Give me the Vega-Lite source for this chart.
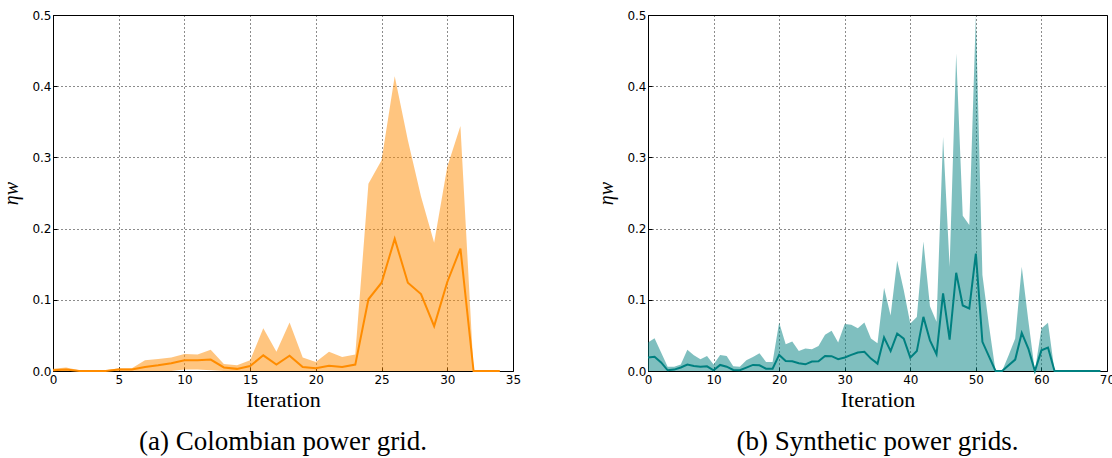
{
  "$schema": "https://vega.github.io/schema/vega-lite/v6.json",
  "background": "white",
  "padding": {"left": 1, "top": 8, "right": 5, "bottom": 0},
  "spacing": 74,
  "config": {
    "view": {"stroke": "black", "strokeWidth": 1},
    "axis": {
      "grid": true, "gridColor": "black", "gridDash": [1, 3], "gridOpacity": 0.9, "gridWidth": 1,
      "domain": false, "tickColor": "black", "tickSize": -4, "tickWidth": 1,
      "labelFont": "DejaVu Sans", "labelFontSize": 12, "labelColor": "black",
      "titleFont": "Liberation Serif", "titleFontSize": 22, "titleFontWeight": "normal", "titleColor": "black"
    },
    "title": {"font": "Liberation Serif", "fontSize": 27, "fontWeight": "normal", "color": "black", "orient": "bottom", "offset": 19}
  },
  "datasets": {
    "a": [
      {"iter": 0, "lower": 0, "upper": 0.003, "mean": 0.001},
      {"iter": 1, "lower": 0, "upper": 0.005, "mean": 0.002},
      {"iter": 2, "lower": 0, "upper": 0.001, "mean": 0.0},
      {"iter": 3, "lower": 0, "upper": 0.001, "mean": 0.0},
      {"iter": 4, "lower": 0, "upper": 0.001, "mean": 0.0},
      {"iter": 5, "lower": 0, "upper": 0.004, "mean": 0.002},
      {"iter": 6, "lower": 0, "upper": 0.004, "mean": 0.002},
      {"iter": 7, "lower": 0, "upper": 0.015, "mean": 0.0056},
      {"iter": 8, "lower": 0, "upper": 0.017, "mean": 0.008},
      {"iter": 9, "lower": 0, "upper": 0.019, "mean": 0.011},
      {"iter": 10, "lower": 0.002, "upper": 0.024, "mean": 0.015},
      {"iter": 11, "lower": 0.002, "upper": 0.023, "mean": 0.015},
      {"iter": 12, "lower": 0.001, "upper": 0.030, "mean": 0.016},
      {"iter": 13, "lower": 0, "upper": 0.010, "mean": 0.005},
      {"iter": 14, "lower": 0, "upper": 0.008, "mean": 0.003},
      {"iter": 15, "lower": 0, "upper": 0.015, "mean": 0.007},
      {"iter": 16, "lower": 0, "upper": 0.060, "mean": 0.022},
      {"iter": 17, "lower": 0, "upper": 0.027, "mean": 0.009},
      {"iter": 18, "lower": 0, "upper": 0.068, "mean": 0.0215},
      {"iter": 19, "lower": 0, "upper": 0.019, "mean": 0.0056},
      {"iter": 20, "lower": 0, "upper": 0.0127, "mean": 0.004},
      {"iter": 21, "lower": 0, "upper": 0.027, "mean": 0.0075},
      {"iter": 22, "lower": 0, "upper": 0.0197, "mean": 0.0056},
      {"iter": 23, "lower": 0, "upper": 0.023, "mean": 0.009},
      {"iter": 24, "lower": 0, "upper": 0.263, "mean": 0.1007},
      {"iter": 25, "lower": 0, "upper": 0.296, "mean": 0.124},
      {"iter": 26, "lower": 0, "upper": 0.414, "mean": 0.1856},
      {"iter": 27, "lower": 0, "upper": 0.324, "mean": 0.124},
      {"iter": 28, "lower": 0, "upper": 0.245, "mean": 0.108},
      {"iter": 29, "lower": 0, "upper": 0.180, "mean": 0.063},
      {"iter": 30, "lower": 0, "upper": 0.287, "mean": 0.125},
      {"iter": 31, "lower": 0, "upper": 0.344, "mean": 0.172},
      {"iter": 32, "lower": 0, "upper": 0.0, "mean": 0.0},
      {"iter": 33, "lower": 0, "upper": 0.0, "mean": 0.0},
      {"iter": 34, "lower": 0, "upper": 0.0, "mean": 0.0}
    ],
    "b": [
      {"iter": 0, "lower": 0, "upper": 0.040, "mean": 0.019},
      {"iter": 1, "lower": 0, "upper": 0.046, "mean": 0.020},
      {"iter": 2, "lower": 0, "upper": 0.026, "mean": 0.012},
      {"iter": 3, "lower": 0, "upper": 0.006, "mean": 0.001},
      {"iter": 4, "lower": 0, "upper": 0.006, "mean": 0.002},
      {"iter": 5, "lower": 0, "upper": 0.009, "mean": 0.005},
      {"iter": 6, "lower": 0, "upper": 0.030, "mean": 0.009},
      {"iter": 7, "lower": 0, "upper": 0.022, "mean": 0.007},
      {"iter": 8, "lower": 0, "upper": 0.0165, "mean": 0.006},
      {"iter": 9, "lower": 0, "upper": 0.021, "mean": 0.0066},
      {"iter": 10, "lower": 0, "upper": 0.009, "mean": 0.001},
      {"iter": 11, "lower": 0, "upper": 0.0226, "mean": 0.0085},
      {"iter": 12, "lower": 0, "upper": 0.021, "mean": 0.006},
      {"iter": 13, "lower": 0, "upper": 0.0066, "mean": 0.0014},
      {"iter": 14, "lower": 0, "upper": 0.006, "mean": 0.001},
      {"iter": 15, "lower": 0, "upper": 0.015, "mean": 0.0047},
      {"iter": 16, "lower": 0, "upper": 0.0198, "mean": 0.0085},
      {"iter": 17, "lower": 0, "upper": 0.025, "mean": 0.008},
      {"iter": 18, "lower": 0, "upper": 0.0127, "mean": 0.0033},
      {"iter": 19, "lower": 0, "upper": 0.0127, "mean": 0.0033},
      {"iter": 20, "lower": 0, "upper": 0.068, "mean": 0.0226},
      {"iter": 21, "lower": 0, "upper": 0.0377, "mean": 0.014},
      {"iter": 22, "lower": 0, "upper": 0.0415, "mean": 0.0137},
      {"iter": 23, "lower": 0, "upper": 0.028, "mean": 0.011},
      {"iter": 24, "lower": 0, "upper": 0.0316, "mean": 0.0094},
      {"iter": 25, "lower": 0, "upper": 0.0307, "mean": 0.0132},
      {"iter": 26, "lower": 0, "upper": 0.035, "mean": 0.0137},
      {"iter": 27, "lower": 0, "upper": 0.051, "mean": 0.021},
      {"iter": 28, "lower": 0, "upper": 0.0566, "mean": 0.0208},
      {"iter": 29, "lower": 0, "upper": 0.040, "mean": 0.0165},
      {"iter": 30, "lower": 0, "upper": 0.066, "mean": 0.019},
      {"iter": 31, "lower": 0, "upper": 0.065, "mean": 0.0226},
      {"iter": 32, "lower": 0, "upper": 0.060, "mean": 0.026},
      {"iter": 33, "lower": 0, "upper": 0.068, "mean": 0.027},
      {"iter": 34, "lower": 0, "upper": 0.0455, "mean": 0.0174},
      {"iter": 35, "lower": 0, "upper": 0.039, "mean": 0.0103},
      {"iter": 36, "lower": 0, "upper": 0.117, "mean": 0.047},
      {"iter": 37, "lower": 0, "upper": 0.078, "mean": 0.028},
      {"iter": 38, "lower": 0, "upper": 0.155, "mean": 0.0526},
      {"iter": 39, "lower": 0, "upper": 0.1136, "mean": 0.0455},
      {"iter": 40, "lower": 0, "upper": 0.0667, "mean": 0.0188},
      {"iter": 41, "lower": 0, "upper": 0.076, "mean": 0.028},
      {"iter": 42, "lower": 0, "upper": 0.182, "mean": 0.076},
      {"iter": 43, "lower": 0, "upper": 0.091, "mean": 0.043},
      {"iter": 44, "lower": 0, "upper": 0.069, "mean": 0.0235},
      {"iter": 45, "lower": 0, "upper": 0.3286, "mean": 0.109},
      {"iter": 46, "lower": 0, "upper": 0.1465, "mean": 0.044},
      {"iter": 47, "lower": 0, "upper": 0.446, "mean": 0.138},
      {"iter": 48, "lower": 0, "upper": 0.218, "mean": 0.092},
      {"iter": 49, "lower": 0, "upper": 0.205, "mean": 0.0878},
      {"iter": 50, "lower": 0, "upper": 0.5, "mean": 0.165},
      {"iter": 51, "lower": 0, "upper": 0.135, "mean": 0.041},
      {"iter": 52, "lower": 0, "upper": 0.064, "mean": 0.0206},
      {"iter": 53, "lower": 0, "upper": 0.0, "mean": 0.0},
      {"iter": 54, "lower": 0, "upper": 0.0, "mean": 0.0},
      {"iter": 55, "lower": 0, "upper": 0.022, "mean": 0.008},
      {"iter": 56, "lower": 0, "upper": 0.0455, "mean": 0.016},
      {"iter": 57, "lower": 0, "upper": 0.1465, "mean": 0.0535},
      {"iter": 58, "lower": 0, "upper": 0.071, "mean": 0.0315},
      {"iter": 59, "lower": 0, "upper": 0.0, "mean": 0.0},
      {"iter": 60, "lower": 0, "upper": 0.0596, "mean": 0.029},
      {"iter": 61, "lower": 0, "upper": 0.0676, "mean": 0.033},
      {"iter": 62, "lower": 0, "upper": 0.0, "mean": 0.0},
      {"iter": 63, "lower": 0, "upper": 0.0, "mean": 0.0},
      {"iter": 64, "lower": 0, "upper": 0.0, "mean": 0.0},
      {"iter": 65, "lower": 0, "upper": 0.0, "mean": 0.0},
      {"iter": 66, "lower": 0, "upper": 0.0, "mean": 0.0},
      {"iter": 67, "lower": 0, "upper": 0.0, "mean": 0.0},
      {"iter": 68, "lower": 0, "upper": 0.0, "mean": 0.0},
      {"iter": 69, "lower": 0, "upper": 0.0, "mean": 0.0}
    ]
  },
  "hconcat": [
    {
      "width": 460, "height": 356,
      "title": {"text": "(a) Colombian power grid."},
      "data": {"name": "a"},
      "encoding": {
        "x": {"field": "iter", "type": "quantitative", "title": "Iteration",
              "scale": {"domain": [0, 35], "nice": false, "zero": false},
              "axis": {"values": [0, 5, 10, 15, 20, 25, 30, 35], "labelPadding": 7, "titlePadding": 4, "labelFlush": false}}
      },
      "layer": [
        {"mark": {"type": "area", "color": "#FF8C00", "opacity": 0.5},
         "encoding": {
           "y": {"field": "upper", "type": "quantitative", "title": "ηw",
                 "scale": {"domain": [0, 0.5], "nice": false},
                 "axis": {"values": [0, 0.1, 0.2, 0.3, 0.4, 0.5], "format": ".1f", "labelPadding": 6, "titlePadding": 10, "titleFontSize": 20, "titleFontStyle": "italic", "labelFlush": false}},
           "y2": {"field": "lower"}
         }},
        {"mark": {"type": "line", "color": "#FF8C00", "strokeWidth": 2},
         "encoding": {"y": {"field": "mean", "type": "quantitative"}}}
      ]
    },
    {
      "width": 459, "height": 356,
      "title": {"text": "(b) Synthetic power grids."},
      "data": {"name": "b"},
      "encoding": {
        "x": {"field": "iter", "type": "quantitative", "title": "Iteration",
              "scale": {"domain": [0, 70], "nice": false, "zero": false},
              "axis": {"values": [0, 10, 20, 30, 40, 50, 60, 70], "labelPadding": 7, "titlePadding": 4, "labelFlush": false}}
      },
      "layer": [
        {"mark": {"type": "area", "color": "#008080", "opacity": 0.5, "clip": true},
         "encoding": {
           "y": {"field": "upper", "type": "quantitative", "title": "ηw",
                 "scale": {"domain": [0, 0.5], "nice": false},
                 "axis": {"values": [0, 0.1, 0.2, 0.3, 0.4, 0.5], "format": ".1f", "labelPadding": 6, "titlePadding": 10, "titleFontSize": 20, "titleFontStyle": "italic", "labelFlush": false}},
           "y2": {"field": "lower"}
         }},
        {"mark": {"type": "line", "color": "#008080", "strokeWidth": 2},
         "encoding": {"y": {"field": "mean", "type": "quantitative"}}}
      ]
    }
  ]
}
